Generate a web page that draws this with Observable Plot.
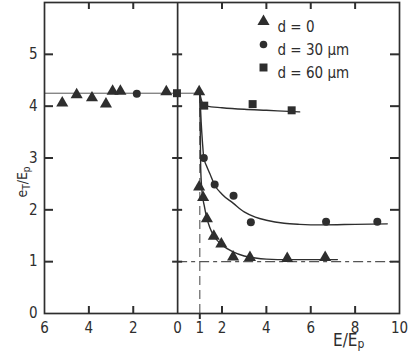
<!DOCTYPE html>
<html><head><meta charset="utf-8">
<script src="https://cdn.jsdelivr.net/npm/d3@7"></script>
<script src="https://cdn.jsdelivr.net/npm/@observablehq/plot@0.6"></script>
<style>body{margin:0;background:#fff}</style>
</head><body><div id="chart"></div>
<script>
// Axis ticks (left half of x shows |x|)
const xTickValues = [-6, -4, -2, 0, 1, 2, 4, 6, 8, 10];
const yTickValues = [0, 1, 2, 3, 4, 5];
const xMinorTicks = [-4, -2, 2, 4, 6, 8];
const yFrameTicks = [1, 2, 3, 4, 5];

// Reference levels
const plateauLevel = 4.25;
const plateauX = [-6, 1];
const unityLevel = 1;
const thresholdX = 1;

// Measured points, d = 0 (triangles)
const d0X = [-5.2, -4.55, -3.86, -3.23, -2.93, -2.58, -0.51, 0.97, 0.97, 1.15, 1.32, 1.63, 1.97, 2.5, 3.26, 4.94, 6.65];
const d0Y = [4.06, 4.22, 4.16, 4.04, 4.29, 4.29, 4.28, 4.28, 2.44, 2.24, 1.83, 1.49, 1.34, 1.09, 1.08, 1.06, 1.08];
// d = 30 µm (circles)
const d30X = [-1.84, 1.18, 1.67, 2.52, 3.3, 6.69, 9.0];
const d30Y = [4.24, 3.0, 2.49, 2.27, 1.76, 1.77, 1.77];
// d = 60 µm (squares)
const d60X = [-0.03, 1.2, 3.38, 5.14];
const d60Y = [4.25, 4.01, 4.04, 3.92];

// Fitted curves
const c0X = [1.0, 1.04, 1.1, 1.2, 1.3, 1.45, 1.63, 2.0, 2.5, 3.0, 3.5, 4.0, 5.0, 6.0, 7.2];
const c0Y = [4.25, 2.8, 2.35, 2.08, 1.87, 1.66, 1.5, 1.32, 1.19, 1.11, 1.07, 1.05, 1.04, 1.04, 1.04];
const c30X = [1.0, 1.06, 1.12, 1.18, 1.3, 1.45, 1.67, 2.0, 2.5, 3.0, 3.5, 4.0, 4.8, 5.5, 6.5, 8.0, 9.45];
const c30Y = [4.25, 3.7, 3.3, 3.0, 2.85, 2.7, 2.48, 2.3, 2.13, 1.96, 1.86, 1.8, 1.74, 1.72, 1.71, 1.72, 1.73];
const c60X = [1.0, 1.1, 1.3, 2.0, 3.0, 4.0, 5.0, 5.5];
const c60Y = [4.25, 4.08, 4.0, 3.97, 3.94, 3.92, 3.9, 3.89];

const legendLabels = ["d = 0", "d = 30 µm", "d = 60 µm"];
const legendSymbols = ["triangle", "circle", "square"];

const ink = "#2e2e2e";
const font = "'Liberation Sans Narrow', 'DejaVu Sans Condensed', sans-serif";

const zip = (xs, ys) => xs.map((x, i) => ({x, y: ys[i]}));
const tickStyle = {stroke: ink, strokeWidth: 2};

const legendMarks = legendLabels.flatMap((lab, i) => [
  Plot.dot([lab], {frameAnchor: "top-right", dx: -136, dy: 19 + i * 23, symbol: legendSymbols[i], r: legendSymbols[i] === "circle" ? 3.8 : 4.5, fill: ink}),
  Plot.text([lab], {frameAnchor: "top-right", dx: -122, dy: 19 + i * 23, text: d => d, textAnchor: "start", fontSize: 15, fill: ink})
]);

const chart = Plot.plot({
  width: 409, height: 353,
  marginLeft: 44, marginRight: 10, marginTop: 2, marginBottom: 40,
  style: {fontFamily: font, fontSize: "15px", color: ink, background: "#fff"},
  x: {domain: [-6, 10]},
  y: {domain: [0, 6]},
  marks: [
    Plot.lineY(plateauX.map(x => ({x, y: plateauLevel})), {x: "x", y: "y", stroke: "#555", strokeWidth: 1}),
    Plot.ruleY([unityLevel], {x1: 0, x2: 10, stroke: "#555", strokeWidth: 1.1, strokeDasharray: "10,4,4,4"}),
    Plot.ruleX([thresholdX], {y1: 0, y2: plateauLevel, stroke: "#555", strokeWidth: 1.1, strokeDasharray: "9,5"}),
    Plot.ruleX([0], {stroke: ink, strokeWidth: 1.7}),
    Plot.line(zip(c0X, c0Y), {x: "x", y: "y", stroke: ink, strokeWidth: 1.4, curve: "monotone-x"}),
    Plot.line(zip(c30X, c30Y), {x: "x", y: "y", stroke: ink, strokeWidth: 1.4, curve: "monotone-x"}),
    Plot.line(zip(c60X, c60Y), {x: "x", y: "y", stroke: ink, strokeWidth: 1.4, curve: "monotone-x"}),
    Plot.dot(zip(d0X, d0Y), {x: "x", y: "y", symbol: "triangle", r: 4.5, fill: ink}),
    Plot.dot(zip(d30X, d30Y), {x: "x", y: "y", symbol: "circle", r: 4, fill: ink}),
    Plot.dot(zip(d60X, d60Y), {x: "x", y: "y", symbol: "square", r: 4.5, fill: ink}),
    // inward frame ticks: zero-length rules extended by negative pixel insets
    Plot.ruleX(xMinorTicks, {x: d => d, y1: 0, y2: 0, insetTop: -7, ...tickStyle}),
    Plot.ruleX([thresholdX], {x: d => d, y1: 0, y2: 0, insetBottom: -6, ...tickStyle}),
    Plot.ruleX(xMinorTicks, {x: d => d, y1: 6, y2: 6, insetBottom: -7, ...tickStyle}),
    Plot.ruleY(yFrameTicks, {y: d => d, x1: -6, x2: -6, insetRight: -9, ...tickStyle}),
    Plot.ruleY(yFrameTicks, {y: d => d, x1: 10, x2: 10, insetLeft: -9, ...tickStyle}),
    Plot.ruleY(yFrameTicks, {y: d => d, x1: 0, x2: 0, insetLeft: -5, insetRight: -5, ...tickStyle}),
    Plot.frame({stroke: ink, strokeWidth: 1.7}),
    Plot.axisX({ticks: xTickValues, tickFormat: d => String(Math.abs(d)), tickSize: 0, tickPadding: 9, label: null}),
    Plot.axisY({ticks: yTickValues, tickFormat: d => String(d), tickSize: 0, tickPadding: 7, label: null}),
    ...legendMarks
  ]
});

const svg = d3.select(chart);
// y label: e_T / E_p
const yl = svg.append("text")
  .attr("transform", "translate(27,182) rotate(-90)")
  .attr("text-anchor", "middle")
  .attr("fill", ink)
  .style("font-family", font).style("font-size", "14px");
yl.append("tspan").text("e");
yl.append("tspan").attr("baseline-shift", "-30%").attr("font-size", "10px").text("T");
yl.append("tspan").text("/E");
yl.append("tspan").attr("baseline-shift", "-30%").attr("font-size", "10px").text("p");
// x label: E / E_p
const xl = svg.append("text")
  .attr("x", 333).attr("y", 346)
  .attr("text-anchor", "start")
  .attr("fill", ink)
  .style("font-family", font).style("font-size", "17px");
xl.append("tspan").text("E/E");
xl.append("tspan").attr("baseline-shift", "-20%").attr("font-size", "12px").text("p");

document.getElementById("chart").appendChild(chart);
</script>
</body></html>
